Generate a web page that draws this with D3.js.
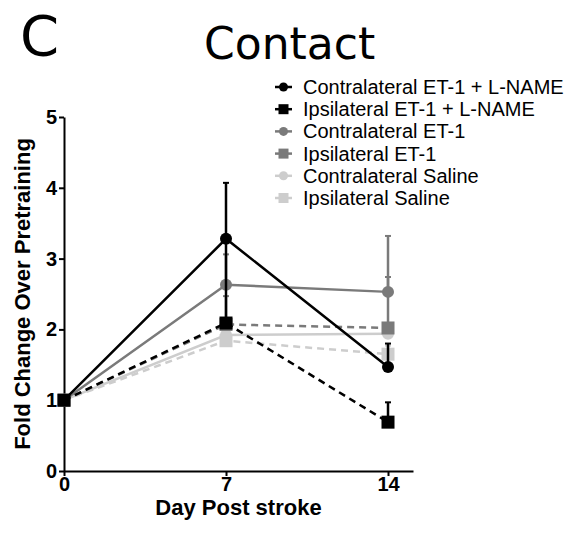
<!DOCTYPE html>
<html>
<head>
<meta charset="utf-8">
<script src="https://cdn.jsdelivr.net/npm/d3@7"></script>
<style>
  body { margin: 0; background: #fff; }
  svg { display: block; }
</style>
</head>
<body>
<svg></svg>
<script>
let width = 572;
let height = 534;

let svg = d3.select('svg')
            .attr('width', width)
            .attr('height', height);

// data
let days = [0, 7, 14];
let seriesNames = ['Contralateral ET-1 + L-NAME', 'Ipsilateral ET-1 + L-NAME',
                   'Contralateral ET-1', 'Ipsilateral ET-1',
                   'Contralateral Saline', 'Ipsilateral Saline'];
let contraLname = [1, 3.28, 1.47];
let contraLnameErr = [0, 0.79, 0.33];
let ipsiLname = [1, 2.09, 0.69];
let ipsiLnameErr = [0, 1.19, 0.28];
let contraEt1 = [1, 2.63, 2.53];
let contraEt1Err = [0, 0.43, 0.79];
let ipsiEt1 = [1, 2.07, 2.02];
let ipsiEt1Err = [0, 0.4, 0.72];
let contraSaline = [1, 1.92, 1.94];
let contraSalineErr = [0, 0.1, 0.1];
let ipsiSaline = [1, 1.84, 1.65];
let ipsiSalineErr = [0, 0.1, 0.12];
let yTicks = [0, 1, 2, 3, 4, 5];

let series = [
  {name: seriesNames[0], vals: contraLname, err: contraLnameErr, color: '#000', dash: null, shape: 'circle'},
  {name: seriesNames[1], vals: ipsiLname, err: ipsiLnameErr, color: '#000', dash: '7,5', shape: 'square'},
  {name: seriesNames[2], vals: contraEt1, err: contraEt1Err, color: '#7a7a7a', dash: null, shape: 'circle'},
  {name: seriesNames[3], vals: ipsiEt1, err: ipsiEt1Err, color: '#7a7a7a', dash: '7,5', shape: 'square'},
  {name: seriesNames[4], vals: contraSaline, err: contraSalineErr, color: '#cdcdcd', dash: null, shape: 'circle'},
  {name: seriesNames[5], vals: ipsiSaline, err: ipsiSalineErr, color: '#cdcdcd', dash: '7,5', shape: 'square'}
];

let x = d3.scaleLinear().domain([0, 15.08]).range([64, 413]);
let y = d3.scaleLinear().domain([0, 5]).range([471, 117]);

// titles
svg.append('text')
   .attr('x', 20).attr('y', 55)
   .style('font-family', 'DejaVu Sans').style('font-size', '56px')
   .text('C');
svg.append('text')
   .attr('x', 204).attr('y', 59)
   .style('font-family', 'DejaVu Sans').style('font-size', '44px')
   .text('Contact');

// axes
let yAxis = svg.append('g')
   .attr('transform', 'translate(' + x(0) + ',0)')
   .call(d3.axisLeft(y).tickValues(yTicks).tickFormat(d3.format('d'))
           .tickSize(5).tickSizeOuter(0).tickPadding(2));
let xAxis = svg.append('g')
   .attr('transform', 'translate(0,' + y(0) + ')')
   .call(d3.axisBottom(x).tickValues(days).tickFormat(d3.format('d'))
           .tickSize(5).tickSizeOuter(0).tickPadding(1));

[yAxis, xAxis].forEach(function(a) {
  a.selectAll('path, line').attr('stroke', '#000').attr('stroke-width', 2);
  a.selectAll('text')
   .attr('fill', '#000')
   .style('font-family', 'Liberation Sans, Arial, sans-serif')
   .style('font-weight', 'bold')
   .style('font-size', '20px');
});

svg.append('text')
   .attr('transform', 'translate(30,' + ((y(0) + y(5)) / 2) + ') rotate(-90)')
   .attr('text-anchor', 'middle')
   .style('font-family', 'Liberation Sans, Arial, sans-serif')
   .style('font-weight', 'bold').style('font-size', '22px')
   .text('Fold Change Over Pretraining');
svg.append('text')
   .attr('x', (x(0) + x(15.08)) / 2).attr('y', 515)
   .attr('text-anchor', 'middle')
   .style('font-family', 'Liberation Sans, Arial, sans-serif')
   .style('font-weight', 'bold').style('font-size', '22px')
   .text('Day Post stroke');

// series, light ones first so black ends on top
let line = d3.line().x(function(d) { return x(d[0]); }).y(function(d) { return y(d[1]); });
let drawOrder = series.slice().reverse();

function marker(g, s, cx, cy, size) {
  if (s.shape == 'circle') {
    g.append('circle').attr('cx', cx).attr('cy', cy).attr('r', size / 2).attr('fill', s.color);
  } else {
    g.append('rect').attr('x', cx - size / 2).attr('y', cy - size / 2)
     .attr('width', size).attr('height', size).attr('fill', s.color);
  }
}

drawOrder.forEach(function(s) {
  let g = svg.append('g');
  let pts = days.map(function(d, i) { return [d, s.vals[i]]; });
  // error bars (upper only)
  days.forEach(function(d, i) {
    if (s.err[i] > 0) {
      g.append('line')
       .attr('x1', x(d)).attr('x2', x(d))
       .attr('y1', y(s.vals[i])).attr('y2', y(s.vals[i] + s.err[i]))
       .attr('stroke', s.color).attr('stroke-width', 2.5);
      g.append('line')
       .attr('x1', x(d) - 3).attr('x2', x(d) + 3)
       .attr('y1', y(s.vals[i] + s.err[i])).attr('y2', y(s.vals[i] + s.err[i]))
       .attr('stroke', s.color).attr('stroke-width', 2);
    }
  });
  g.append('path')
   .attr('d', line(pts))
   .attr('fill', 'none')
   .attr('stroke', s.color)
   .attr('stroke-width', 2.5)
   .attr('stroke-dasharray', s.dash);
  pts.forEach(function(p) { marker(g, s, x(p[0]), y(p[1]), s.shape == 'circle' ? 12 : 13); });
});

// legend
let legendY = d3.scalePoint().domain(seriesNames).range([87, 198]);
let legend = svg.append('g');
series.forEach(function(s) {
  let ly = legendY(s.name);
  legend.append('line')
        .attr('x1', 275).attr('x2', 292)
        .attr('y1', ly).attr('y2', ly)
        .attr('stroke', s.color).attr('stroke-width', 2.5);
  marker(legend, s, 283.5, ly, s.shape == 'circle' ? 9 : 10);
  legend.append('text')
        .attr('x', 303).attr('y', ly + 7)
        .style('font-family', 'Liberation Sans, Arial, sans-serif')
        .style('font-size', '20px')
        .attr('fill', '#000')
        .text(s.name);
});
</script>
</body>
</html>
